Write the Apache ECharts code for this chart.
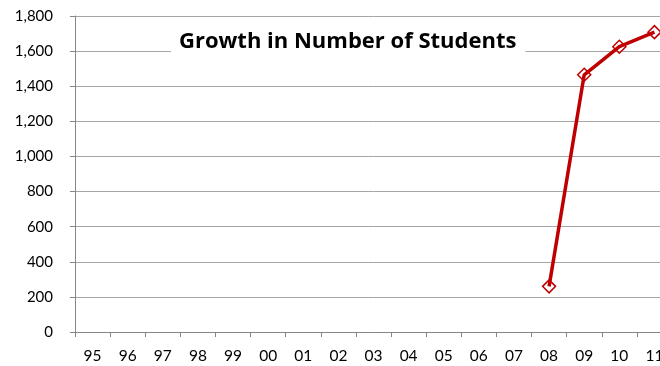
<!DOCTYPE html>
<html><head><meta charset="utf-8">
<script src="https://cdn.jsdelivr.net/npm/echarts@6/dist/echarts.min.js"></script>
<style>html,body{margin:0;padding:0;overflow:hidden;background:#fff;width:660px;height:366px}#c{width:672px;height:366px}</style>
</head><body><div id="c"></div>
<script>
const categories = ['95','96','97','98','99','00','01','02','03','04','05','06','07','08','09','10','11'];
const students = [null,null,null,null,null,null,null,null,null,null,null,null,null,260,1465,1625,1708];
const yTicks = [0,200,400,600,800,1000,1200,1400,1600,1800];
const chartTitle = 'Growth in Number of Students';

const chart = echarts.init(document.getElementById('c'), null, {renderer:'canvas'});
chart.setOption({
  animation:false,
  title:{text:chartTitle,left:171,top:30,backgroundColor:'#fff',padding:[1,9,1,8],
    textStyle:{fontFamily:'Open Sans',fontWeight:'bold',fontSize:22,color:'#000'}},
  grid:{left:75,right:0,top:16,bottom:34},
  xAxis:{type:'category',data:categories,boundaryGap:true,
    axisLine:{lineStyle:{color:'#868686',width:1}},
    axisTick:{show:true,length:5,lineStyle:{color:'#868686'}},
    axisLabel:{color:'#000',fontFamily:'Lato',fontSize:15.5,margin:16,interval:0}},
  yAxis:{type:'value',min:yTicks[0],max:yTicks[yTicks.length-1],interval:200,
    axisLine:{show:true,lineStyle:{color:'#868686',width:1}},
    axisTick:{show:true,length:5,lineStyle:{color:'#868686'}},
    splitLine:{lineStyle:{color:'#a6a6a6',width:1}},
    axisLabel:{color:'#000',fontFamily:'Lato',fontSize:15,margin:22,
      formatter:v=>v.toLocaleString('en-US')}},
  series:[{type:'line',data:students,connectNulls:false,
    lineStyle:{color:'#c00000',width:3.5},
    itemStyle:{color:'rgba(0,0,0,0)',borderColor:'#c00000',borderWidth:1.5},
    symbol:'diamond',symbolSize:13,showSymbol:true}]
});
</script></body></html>
